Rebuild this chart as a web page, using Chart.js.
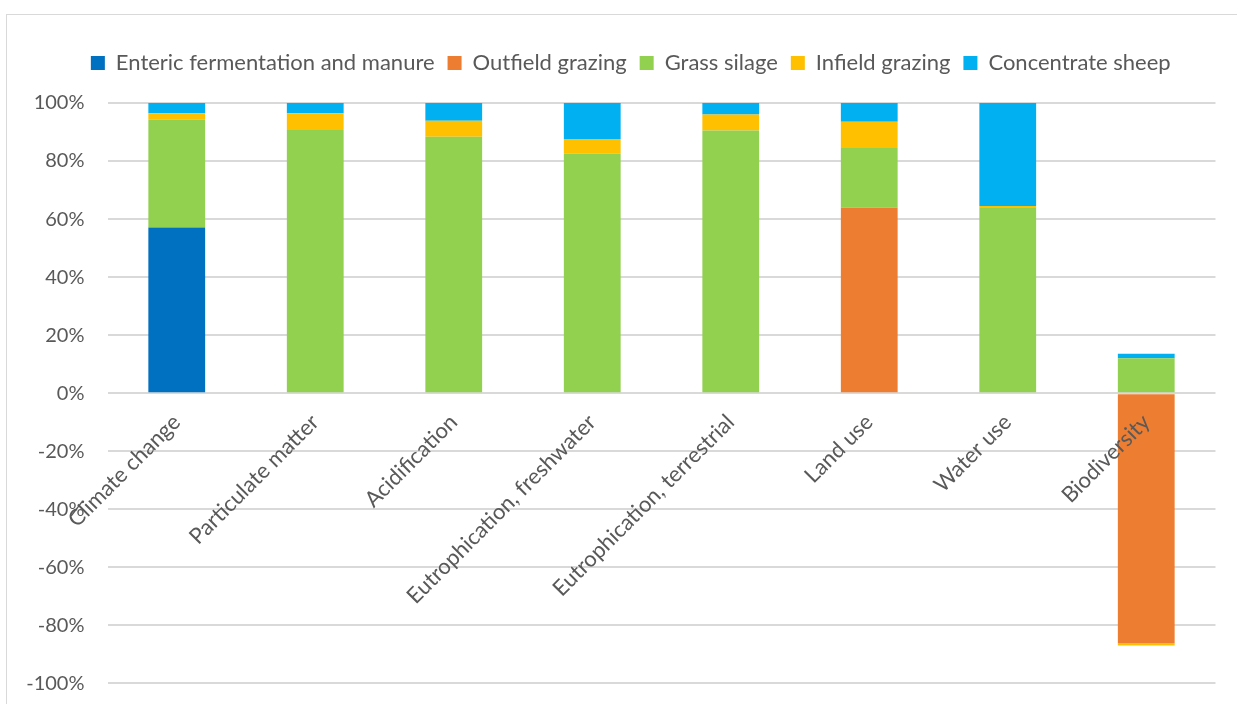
<!DOCTYPE html>
<html>
<head>
<meta charset="utf-8">
<script src="https://cdn.jsdelivr.net/npm/chart.js@4.4.0/dist/chart.umd.min.js"></script>
<style>
  html, body { margin: 0; padding: 0; background: #fff; }
  #frame { position: absolute; left: 6px; top: 14px; width: 1240px; height: 700px; border: 1px solid #d9d9d9; box-sizing: border-box; }
  #wrap { position: absolute; left: 0; top: 0; width: 1237px; height: 704px; }
</style>
</head>
<body>
<div id="frame"></div>
<div id="wrap"><canvas id="chart"></canvas></div>
<script>
const categories = [
  'Climate change',
  'Particulate matter',
  'Acidification',
  'Eutrophication, freshwater',
  'Eutrophication, terrestrial',
  'Land use',
  'Water use',
  'Biodiversity',
];

// shares in percent
const enteric = [57.1, 0, 0, 0, 0, 0, 0, 0];
const outfield = [0, 0, 0, 0, 0, 63.9, 0, -86.1];
const grassSilage = [37.1, 90.7, 88.4, 82.6, 90.5, 20.6, 64.1, 12.0];
const infield = [2.3, 5.8, 5.5, 5.0, 5.5, 9.0, 0.4, -0.9];
const concentrate = [3.5, 3.5, 6.1, 12.4, 4.0, 6.5, 35.5, 1.6];

const yTicks = [-100, -80, -60, -40, -20, 0, 20, 40, 60, 80, 100];

const SERIES = [
  { label: 'Enteric fermentation and manure', color: '#0070c0', data: enteric },
  { label: 'Outfield grazing', color: '#ed7d31', data: outfield },
  { label: 'Grass silage', color: '#92d050', data: grassSilage },
  { label: 'Infield grazing', color: '#ffc000', data: infield },
  { label: 'Concentrate sheep', color: '#00b0f0', data: concentrate },
];

const FONT = 'Lato, "Noto Sans", sans-serif';
const TEXT = '#595959';

function buildDatasets() {
  return SERIES.map((s) => ({
    label: s.label,
    data: s.data,
    backgroundColor: s.color,
    borderWidth: 0,
    categoryPercentage: 1,
    barPercentage: 0.41,
  }));
}

// room between legend and plot, and legend nudged right like the original
const legendTweak = {
  id: 'legendTweak',
  afterInit(chart) {
    const fit = chart.legend.fit;
    chart.legend.fit = function () {
      fit.call(this);
      this.height += 19;
    };
  },
  afterLayout(chart) {
    chart.legend.left += 11;
    chart.legend.right += 11;
  },
};

new Chart(document.getElementById('chart'), {
  type: 'bar',
  data: { labels: categories, datasets: buildDatasets() },
  plugins: [legendTweak],
  options: {
    responsive: true,
    maintainAspectRatio: false,
    devicePixelRatio: 1,
    animation: false,
    events: [],
    layout: { padding: { left: 24, right: 21.5, top: 39, bottom: 20.7 } },
    plugins: {
      tooltip: { enabled: false },
      legend: {
        position: 'top',
        labels: {
          boxWidth: 14,
          boxHeight: 14,
          padding: 13,
          color: TEXT,
          font: { family: FONT, size: 22 },
        },
      },
    },
    scales: {
      x: {
        stacked: true,
        position: { y: 0 },
        grid: { display: false },
        border: { display: false },
        ticks: {
          z: 1, // labels sit on top of the bars
          autoSkip: false,
          maxRotation: 45,
          minRotation: 45,
          padding: 8,
          color: TEXT,
          font: { family: FONT, size: 22 },
        },
      },
      y: {
        stacked: true,
        min: -100,
        max: 100,
        afterFit(scale) { scale.width = 83.5; },
        afterBuildTicks(scale) { scale.ticks = yTicks.map((v) => ({ value: v })); },
        grid: { color: '#d9d9d9', lineWidth: 2, drawTicks: true, tickLength: 23, tickColor: 'rgba(0,0,0,0)' },
        border: { display: false },
        ticks: {
          padding: 0,
          color: TEXT,
          font: { family: FONT, size: 20 },
          callback: (v) => `${v}%`,
        },
      },
    },
  },
});
</script>
</body>
</html>
